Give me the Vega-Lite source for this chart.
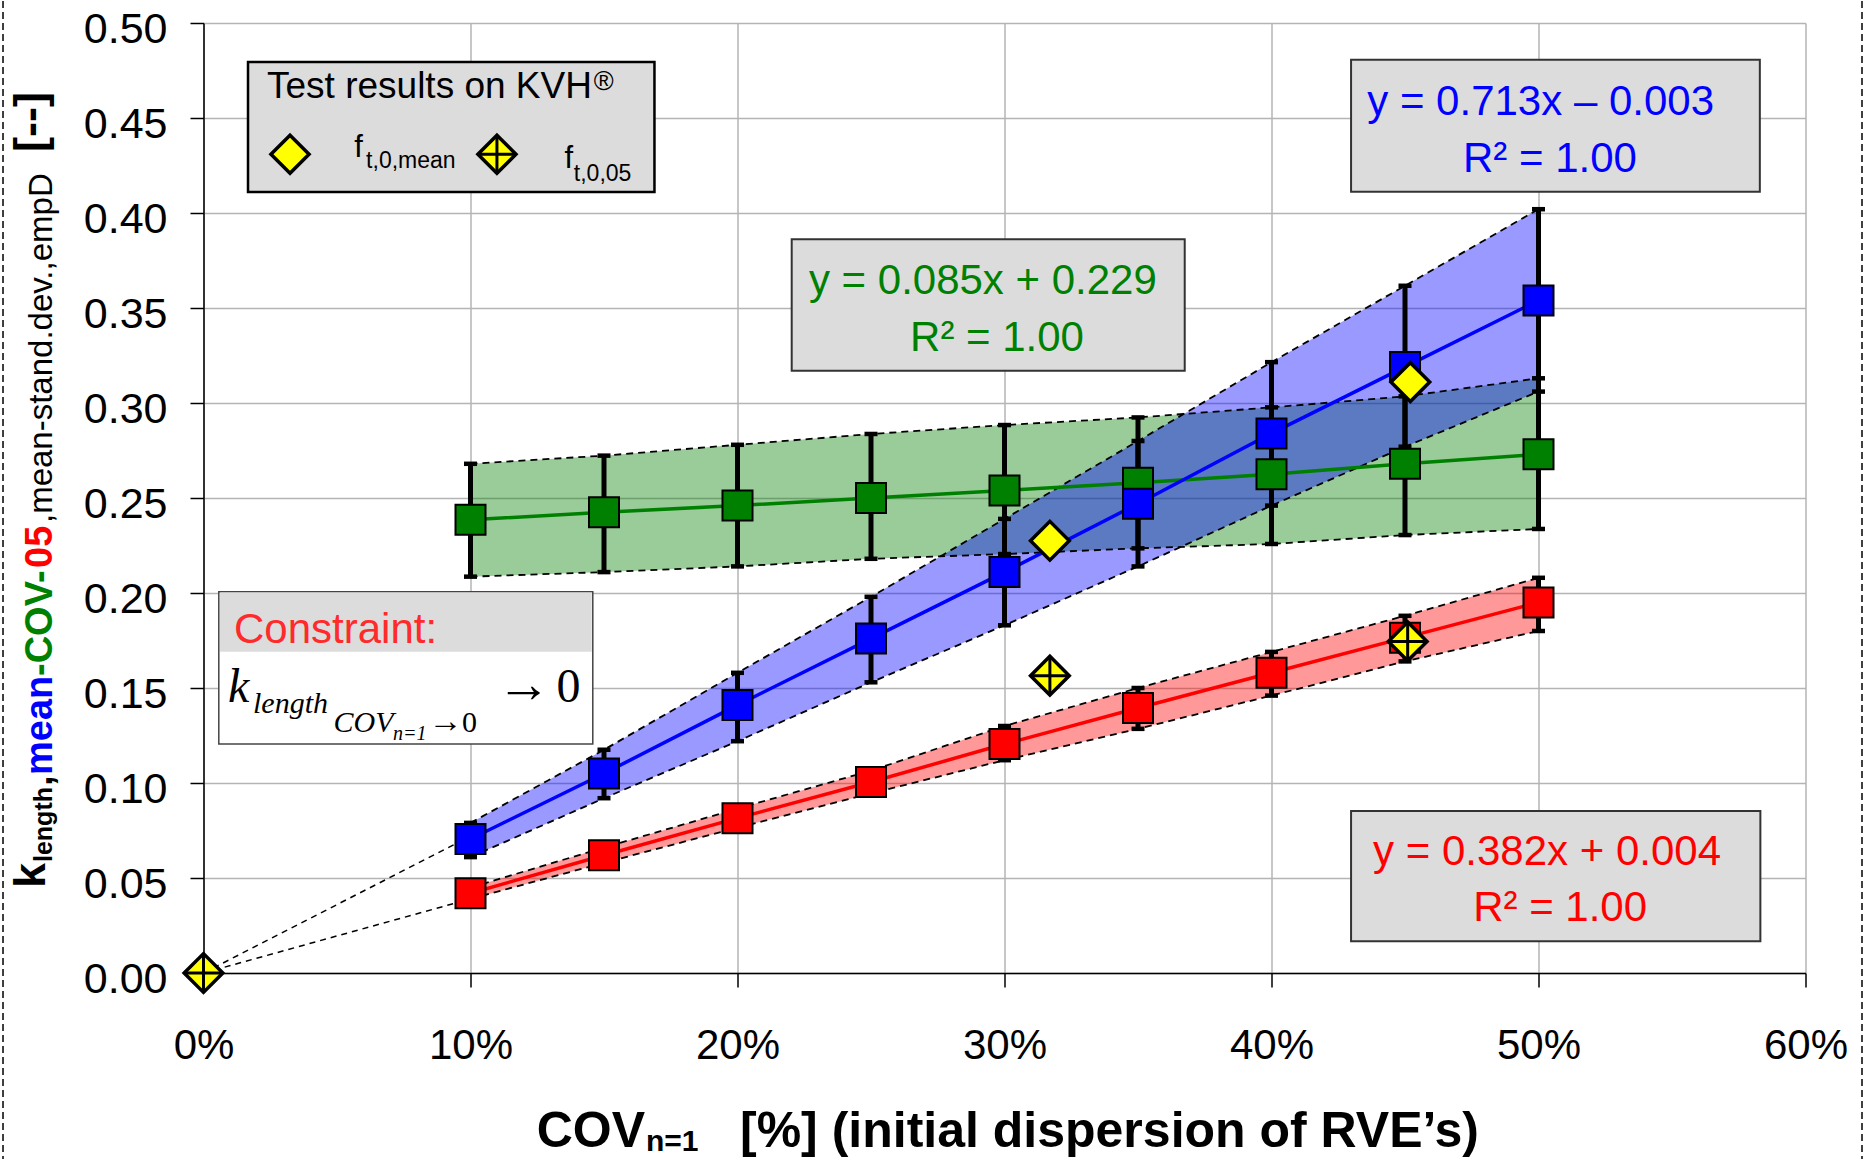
{
  "$schema": "https://vega.github.io/schema/vega-lite/v6.json",
  "autosize": {"type": "none"},
  "padding": {"left": 203.5, "top": 23, "right": 66.5, "bottom": 186},
  "width": 1602,
  "height": 950,
  "background": "white",
  "config": {"view": {"stroke": null}},
  "data": {"values": [{}]},
  "datasets": {
    "series": [
      {"series": "COV", "cov": 0.10, "k": 0.2385, "lo": 0.2086, "hi": 0.268},
      {"series": "COV", "cov": 0.15, "k": 0.2425, "lo": 0.211, "hi": 0.2723},
      {"series": "COV", "cov": 0.20, "k": 0.246, "lo": 0.214, "hi": 0.278},
      {"series": "COV", "cov": 0.25, "k": 0.250, "lo": 0.218, "hi": 0.2837},
      {"series": "COV", "cov": 0.30, "k": 0.254, "lo": 0.2205, "hi": 0.2884},
      {"series": "COV", "cov": 0.35, "k": 0.258, "lo": 0.2235, "hi": 0.2924},
      {"series": "COV", "cov": 0.40, "k": 0.2625, "lo": 0.2258, "hi": 0.2977},
      {"series": "COV", "cov": 0.45, "k": 0.268, "lo": 0.2305, "hi": 0.3035},
      {"series": "COV", "cov": 0.50, "k": 0.273, "lo": 0.2337, "hi": 0.313},
      {"series": "mean", "cov": 0.10, "k": 0.0705, "lo": 0.061, "hi": 0.079},
      {"series": "mean", "cov": 0.15, "k": 0.105, "lo": 0.092, "hi": 0.1175},
      {"series": "mean", "cov": 0.20, "k": 0.141, "lo": 0.122, "hi": 0.158},
      {"series": "mean", "cov": 0.25, "k": 0.176, "lo": 0.153, "hi": 0.198},
      {"series": "mean", "cov": 0.30, "k": 0.211, "lo": 0.183, "hi": 0.239},
      {"series": "mean", "cov": 0.35, "k": 0.247, "lo": 0.214, "hi": 0.280},
      {"series": "mean", "cov": 0.40, "k": 0.284, "lo": 0.246, "hi": 0.3215},
      {"series": "mean", "cov": 0.45, "k": 0.319, "lo": 0.277, "hi": 0.3617},
      {"series": "mean", "cov": 0.50, "k": 0.354, "lo": 0.306, "hi": 0.402},
      {"series": "05", "cov": 0.10, "k": 0.042, "lo": 0.039, "hi": 0.045},
      {"series": "05", "cov": 0.15, "k": 0.062, "lo": 0.058, "hi": 0.066},
      {"series": "05", "cov": 0.20, "k": 0.0815, "lo": 0.0765, "hi": 0.0865},
      {"series": "05", "cov": 0.25, "k": 0.1005, "lo": 0.0945, "hi": 0.1065},
      {"series": "05", "cov": 0.30, "k": 0.1205, "lo": 0.112, "hi": 0.130},
      {"series": "05", "cov": 0.35, "k": 0.1395, "lo": 0.1285, "hi": 0.150},
      {"series": "05", "cov": 0.40, "k": 0.158, "lo": 0.146, "hi": 0.169},
      {"series": "05", "cov": 0.45, "k": 0.1765, "lo": 0.164, "hi": 0.188},
      {"series": "05", "cov": 0.50, "k": 0.195, "lo": 0.180, "hi": 0.208}
    ],
    "origin": [
      {"series": "mean", "cov": 0, "k": 0},
      {"series": "mean", "cov": 0.1, "k": 0.072},
      {"series": "05", "cov": 0, "k": 0},
      {"series": "05", "cov": 0.1, "k": 0.039}
    ],
    "tests": [
      {"kind": "mean", "cov": 0.317, "k": 0.2275},
      {"kind": "mean", "cov": 0.452, "k": 0.311},
      {"kind": "05", "cov": 0.0, "k": 0.0},
      {"kind": "05", "cov": 0.317, "k": 0.1565},
      {"kind": "05", "cov": 0.451, "k": 0.1745}
    ]
  },
  "layer": [
    {
      "data": {"name": "series"},
      "mark": {"type": "area", "fillOpacity": 0.4},
      "encoding": {
        "x": {"field": "cov", "type": "quantitative", "scale": {"domain": [0, 0.6], "nice": false, "zero": false},
          "axis": {"values": [0, 0.1, 0.2, 0.3, 0.4, 0.5, 0.6], "format": ".0%", "title": null,
            "labelFont": "Liberation Sans", "labelFontSize": 42, "labelColor": "black", "labelPadding": 38,
            "labelFlush": false, "labelOverlap": false, "labelBound": false,
            "tickSize": 14, "tickColor": "black", "tickWidth": 1.5, "domainColor": "black", "domainWidth": 1.5,
            "grid": true, "gridColor": "#b4b4b4", "gridWidth": 1.5}},
        "y": {"field": "lo", "type": "quantitative", "scale": {"domain": [0, 0.5], "nice": false, "zero": false},
          "axis": {"values": [0, 0.05, 0.1, 0.15, 0.2, 0.25, 0.3, 0.35, 0.4, 0.45, 0.5], "format": ".2f", "title": null,
            "labelFont": "Liberation Sans", "labelFontSize": 43, "labelColor": "black", "labelPadding": 23, "labelOffset": 6,
            "labelFlush": false, "labelOverlap": false, "labelBound": false,
            "tickSize": 13.5, "tickColor": "black", "tickWidth": 1.5, "domainColor": "black", "domainWidth": 1.5,
            "grid": true, "gridColor": "#b4b4b4", "gridWidth": 1.5}},
        "y2": {"field": "hi"},
        "color": {"field": "series", "type": "nominal", "scale": {"domain": ["COV", "mean", "05"], "range": ["#008000", "#0000ff", "#ff0000"]}, "legend": null}
      }
    },
    {
      "data": {"name": "series"},
      "mark": {"type": "line", "color": "black", "strokeWidth": 1.8, "strokeDash": [7, 5]},
      "encoding": {"x": {"field": "cov", "type": "quantitative"}, "y": {"field": "lo", "type": "quantitative"}, "detail": {"field": "series"}}
    },
    {
      "data": {"name": "series"},
      "mark": {"type": "line", "color": "black", "strokeWidth": 1.8, "strokeDash": [7, 5]},
      "encoding": {"x": {"field": "cov", "type": "quantitative"}, "y": {"field": "hi", "type": "quantitative"}, "detail": {"field": "series"}}
    },
    {
      "data": {"name": "origin"},
      "mark": {"type": "line", "color": "black", "strokeWidth": 1.5, "strokeDash": [6, 5]},
      "encoding": {"x": {"field": "cov", "type": "quantitative"}, "y": {"field": "k", "type": "quantitative"}, "detail": {"field": "series"}}
    },
    {
      "data": {"name": "series"},
      "mark": {"type": "rule", "color": "black", "strokeWidth": 5},
      "encoding": {"x": {"field": "cov", "type": "quantitative"}, "y": {"field": "lo", "type": "quantitative"}, "y2": {"field": "hi"}}
    },
    {
      "data": {"name": "series"},
      "mark": {"type": "point", "shape": "M-1,0L1,0", "filled": false, "color": "black", "strokeWidth": 4.5, "size": 169, "opacity": 1},
      "encoding": {"x": {"field": "cov", "type": "quantitative"}, "y": {"field": "lo", "type": "quantitative"}}
    },
    {
      "data": {"name": "series"},
      "mark": {"type": "point", "shape": "M-1,0L1,0", "filled": false, "color": "black", "strokeWidth": 4.5, "size": 169, "opacity": 1},
      "encoding": {"x": {"field": "cov", "type": "quantitative"}, "y": {"field": "hi", "type": "quantitative"}}
    },
    {
      "data": {"name": "series"},
      "mark": {"type": "line", "strokeWidth": 3.5},
      "encoding": {"x": {"field": "cov", "type": "quantitative"}, "y": {"field": "k", "type": "quantitative"},
        "color": {"field": "series", "type": "nominal", "legend": null}}
    },
    {
      "data": {"name": "series"},
      "mark": {"type": "point", "shape": "square", "filled": true, "size": 900, "stroke": "black", "strokeWidth": 2, "opacity": 1},
      "encoding": {"x": {"field": "cov", "type": "quantitative"}, "y": {"field": "k", "type": "quantitative"},
        "color": {"field": "series", "type": "nominal", "legend": null}}
    },
    {
      "data": {"name": "tests"},
      "mark": {"type": "point", "shape": "diamond", "filled": true, "fill": "#ffff00", "stroke": "black", "strokeWidth": 3.5, "size": 1500, "opacity": 1},
      "encoding": {"x": {"field": "cov", "type": "quantitative"}, "y": {"field": "k", "type": "quantitative"}}
    },
    {
      "data": {"name": "tests"},
      "transform": [{"filter": "datum.kind === '05'"}],
      "mark": {"type": "point", "shape": "M0,-1L0,1M-1,0L1,0", "filled": false, "color": "black", "strokeWidth": 3, "size": 1500, "opacity": 1},
      "encoding": {"x": {"field": "cov", "type": "quantitative"}, "y": {"field": "k", "type": "quantitative"}}
    },
    {
      "mark": {"type": "rect", "fill": "#dcdcdc", "stroke": "black", "strokeWidth": 2.5},
      "encoding": {"x": {"datum": 0.01667}, "x2": {"datum": 0.1689}, "y": {"datum": 0.4111}, "y2": {"datum": 0.4795}}
    },
    {
      "mark": {"type": "rect", "fill": "#dcdcdc", "stroke": "#333333", "strokeWidth": 2},
      "encoding": {"x": {"datum": 0.4298}, "x2": {"datum": 0.5829}, "y": {"datum": 0.4112}, "y2": {"datum": 0.4807}}
    },
    {
      "mark": {"type": "rect", "fill": "#dcdcdc", "stroke": "#333333", "strokeWidth": 2},
      "encoding": {"x": {"datum": 0.2203}, "x2": {"datum": 0.3675}, "y": {"datum": 0.3170}, "y2": {"datum": 0.3862}}
    },
    {
      "mark": {"type": "rect", "fill": "#dcdcdc", "stroke": "#333333", "strokeWidth": 2},
      "encoding": {"x": {"datum": 0.4298}, "x2": {"datum": 0.5831}, "y": {"datum": 0.0167}, "y2": {"datum": 0.0853}}
    },
    {
      "mark": {"type": "rect", "fill": "white", "stroke": "#444444", "strokeWidth": 1.5},
      "encoding": {"x": {"datum": 0.00573}, "x2": {"datum": 0.1458}, "y": {"datum": 0.1205}, "y2": {"datum": 0.2007}}
    },
    {
      "mark": {"type": "rect", "fill": "#dcdcdc"},
      "encoding": {"x": {"datum": 0.0062}, "x2": {"datum": 0.1454}, "y": {"datum": 0.1691}, "y2": {"datum": 0.2003}}
    },
    {
      "mark": {"type": "point", "shape": "diamond", "filled": true, "fill": "#ffff00", "stroke": "black", "strokeWidth": 3.5, "size": 1450, "opacity": 1},
      "encoding": {"x": {"datum": 0.0324}, "y": {"datum": 0.4309}}
    },
    {
      "mark": {"type": "point", "shape": "diamond", "filled": true, "fill": "#ffff00", "stroke": "black", "strokeWidth": 3.5, "size": 1450, "opacity": 1},
      "encoding": {"x": {"datum": 0.1099}, "y": {"datum": 0.4309}}
    },
    {
      "mark": {"type": "point", "shape": "M0,-1L0,1M-1,0L1,0", "filled": false, "color": "black", "strokeWidth": 3, "size": 1450, "opacity": 1},
      "encoding": {"x": {"datum": 0.1099}, "y": {"datum": 0.4309}}
    },
    {"mark": {"type": "text", "text": "Test results on KVH", "font": "Liberation Sans", "fontSize": 37, "color": "black", "align": "left", "baseline": "alphabetic"},
      "encoding": {"x": {"datum": 0.02379}, "y": {"datum": 0.4605}}},
    {"mark": {"type": "text", "text": "®", "font": "Liberation Sans", "fontSize": 27, "color": "black", "align": "left", "baseline": "alphabetic"},
      "encoding": {"x": {"datum": 0.1462}, "y": {"datum": 0.4645}}},
    {"mark": {"type": "text", "text": "f", "font": "Liberation Sans", "fontSize": 31, "color": "black", "align": "left", "baseline": "alphabetic"},
      "encoding": {"x": {"datum": 0.0565}, "y": {"datum": 0.4295}}},
    {"mark": {"type": "text", "text": "t,0,mean", "font": "Liberation Sans", "fontSize": 23, "color": "black", "align": "left", "baseline": "alphabetic"},
      "encoding": {"x": {"datum": 0.0609}, "y": {"datum": 0.4237}}},
    {"mark": {"type": "text", "text": "f", "font": "Liberation Sans", "fontSize": 31, "color": "black", "align": "left", "baseline": "alphabetic"},
      "encoding": {"x": {"datum": 0.1352}, "y": {"datum": 0.4237}}},
    {"mark": {"type": "text", "text": "t,0,05", "font": "Liberation Sans", "fontSize": 23, "color": "black", "align": "left", "baseline": "alphabetic"},
      "encoding": {"x": {"datum": 0.1387}, "y": {"datum": 0.4168}}},
    {"mark": {"type": "text", "text": "y = 0.713x – 0.003", "font": "Liberation Sans", "fontSize": 42, "color": "#0000ff", "align": "center", "baseline": "alphabetic"},
      "encoding": {"x": {"datum": 0.5008}, "y": {"datum": 0.4516}}},
    {"mark": {"type": "text", "text": "R² = 1.00", "font": "Liberation Sans", "fontSize": 42, "color": "#0000ff", "align": "center", "baseline": "alphabetic"},
      "encoding": {"x": {"datum": 0.5043}, "y": {"datum": 0.4217}}},
    {"mark": {"type": "text", "text": "y = 0.085x + 0.229", "font": "Liberation Sans", "fontSize": 42, "color": "#008000", "align": "center", "baseline": "alphabetic"},
      "encoding": {"x": {"datum": 0.2919}, "y": {"datum": 0.3574}}},
    {"mark": {"type": "text", "text": "R² = 1.00", "font": "Liberation Sans", "fontSize": 42, "color": "#008000", "align": "center", "baseline": "alphabetic"},
      "encoding": {"x": {"datum": 0.2972}, "y": {"datum": 0.3275}}},
    {"mark": {"type": "text", "text": "y = 0.382x + 0.004", "font": "Liberation Sans", "fontSize": 42, "color": "#ff0000", "align": "center", "baseline": "alphabetic"},
      "encoding": {"x": {"datum": 0.5032}, "y": {"datum": 0.0568}}},
    {"mark": {"type": "text", "text": "R² = 1.00", "font": "Liberation Sans", "fontSize": 42, "color": "#ff0000", "align": "center", "baseline": "alphabetic"},
      "encoding": {"x": {"datum": 0.5081}, "y": {"datum": 0.0275}}},
    {"mark": {"type": "text", "text": "Constraint:", "font": "Liberation Sans", "fontSize": 42, "color": "#ff2a2a", "align": "left", "baseline": "alphabetic"},
      "encoding": {"x": {"datum": 0.01143}, "y": {"datum": 0.1738}}},
    {"mark": {"type": "text", "text": "k", "font": "Liberation Serif", "fontStyle": "italic", "fontSize": 48, "color": "black", "align": "left", "baseline": "alphabetic"},
      "encoding": {"x": {"datum": 0.00918}, "y": {"datum": 0.1428}}},
    {"mark": {"type": "text", "text": "length", "font": "Liberation Serif", "fontStyle": "italic", "fontSize": 30, "color": "black", "align": "left", "baseline": "alphabetic"},
      "encoding": {"x": {"datum": 0.01854}, "y": {"datum": 0.1368}}},
    {"mark": {"type": "text", "text": "COV", "font": "Liberation Serif", "fontStyle": "italic", "fontSize": 30, "color": "black", "align": "left", "baseline": "alphabetic"},
      "encoding": {"x": {"datum": 0.04869}, "y": {"datum": 0.1270}}},
    {"mark": {"type": "text", "text": "n=1", "font": "Liberation Serif", "fontStyle": "italic", "fontSize": 20, "color": "black", "align": "left", "baseline": "alphabetic"},
      "encoding": {"x": {"datum": 0.07097}, "y": {"datum": 0.1226}}},
    {"mark": {"type": "text", "text": "→", "font": "Liberation Serif", "fontSize": 34, "color": "black", "align": "left", "baseline": "alphabetic"},
      "encoding": {"x": {"datum": 0.0843}, "y": {"datum": 0.1270}}},
    {"mark": {"type": "text", "text": "0", "font": "Liberation Serif", "fontSize": 30, "color": "black", "align": "left", "baseline": "alphabetic"},
      "encoding": {"x": {"datum": 0.0968}, "y": {"datum": 0.1270}}},
    {"mark": {"type": "text", "text": "→", "font": "Liberation Serif", "fontSize": 54, "color": "black", "align": "left", "baseline": "alphabetic"},
      "encoding": {"x": {"datum": 0.1098}, "y": {"datum": 0.1428}}},
    {"mark": {"type": "text", "text": "0", "font": "Liberation Serif", "fontSize": 48, "color": "black", "align": "left", "baseline": "alphabetic"},
      "encoding": {"x": {"datum": 0.1322}, "y": {"datum": 0.1428}}},
    {"mark": {"type": "text", "text": "COV", "font": "Liberation Sans", "fontWeight": "bold", "fontSize": 50, "color": "black", "align": "right", "baseline": "alphabetic"},
      "encoding": {"x": {"datum": 0.16536}, "y": {"datum": -0.09158}}},
    {"mark": {"type": "text", "text": "n=1", "font": "Liberation Sans", "fontWeight": "bold", "fontSize": 30, "color": "black", "align": "left", "baseline": "alphabetic"},
      "encoding": {"x": {"datum": 0.16573}, "y": {"datum": -0.0935}}},
    {"mark": {"type": "text", "text": "[%] (initial dispersion of RVE’s)", "font": "Liberation Sans", "fontWeight": "bold", "fontSize": 50, "color": "black", "align": "left", "baseline": "alphabetic"},
      "encoding": {"x": {"datum": 0.20094}, "y": {"datum": -0.09158}}},
    {"mark": {"type": "text", "text": "k", "angle": 270, "font": "Liberation Sans", "fontWeight": "bold", "fontSize": 45, "color": "black", "align": "left", "baseline": "alphabetic"},
      "encoding": {"x": {"datum": -0.05936}, "y": {"datum": 0.04474}}},
    {"mark": {"type": "text", "text": "length", "angle": 270, "font": "Liberation Sans", "fontWeight": "bold", "fontSize": 25, "color": "black", "align": "left", "baseline": "alphabetic"},
      "encoding": {"x": {"datum": -0.05674}, "y": {"datum": 0.05842}}},
    {"mark": {"type": "text", "text": ",", "angle": 270, "font": "Liberation Sans", "fontWeight": "bold", "fontSize": 38, "color": "black", "align": "left", "baseline": "alphabetic"},
      "encoding": {"x": {"datum": -0.05674}, "y": {"datum": 0.09842}}},
    {"mark": {"type": "text", "text": "mean", "angle": 270, "font": "Liberation Sans", "fontWeight": "bold", "fontSize": 38, "color": "#0000ff", "align": "left", "baseline": "alphabetic"},
      "encoding": {"x": {"datum": -0.05674}, "y": {"datum": 0.10421}}},
    {"mark": {"type": "text", "text": "-COV-", "angle": 270, "font": "Liberation Sans", "fontWeight": "bold", "fontSize": 38, "color": "#008000", "align": "left", "baseline": "alphabetic"},
      "encoding": {"x": {"datum": -0.05674}, "y": {"datum": 0.15632}}},
    {"mark": {"type": "text", "text": "05", "angle": 270, "font": "Liberation Sans", "fontWeight": "bold", "fontSize": 38, "color": "#ff0000", "align": "left", "baseline": "alphabetic"},
      "encoding": {"x": {"datum": -0.05674}, "y": {"datum": 0.21316}}},
    {"mark": {"type": "text", "text": ",mean-stand.dev.,empD", "angle": 270, "font": "Liberation Sans", "fontSize": 33, "color": "black", "align": "left", "baseline": "alphabetic"},
      "encoding": {"x": {"datum": -0.05674}, "y": {"datum": 0.23684}}},
    {"mark": {"type": "text", "text": "[--]", "angle": 270, "font": "Liberation Sans", "fontWeight": "bold", "fontSize": 45, "color": "black", "align": "left", "baseline": "alphabetic"},
      "encoding": {"x": {"datum": -0.05918}, "y": {"datum": 0.43211}}},
    {"mark": {"type": "rule", "color": "black", "strokeWidth": 1.5, "strokeDash": [7, 4]},
      "encoding": {"x": {"datum": -0.07509}, "y": {"datum": -0.1}, "y2": {"datum": 0.513}}},
    {"mark": {"type": "rule", "color": "black", "strokeWidth": 1.5, "strokeDash": [7, 4]},
      "encoding": {"x": {"datum": 0.62116}, "y": {"datum": -0.1}, "y2": {"datum": 0.513}}}
  ]
}
